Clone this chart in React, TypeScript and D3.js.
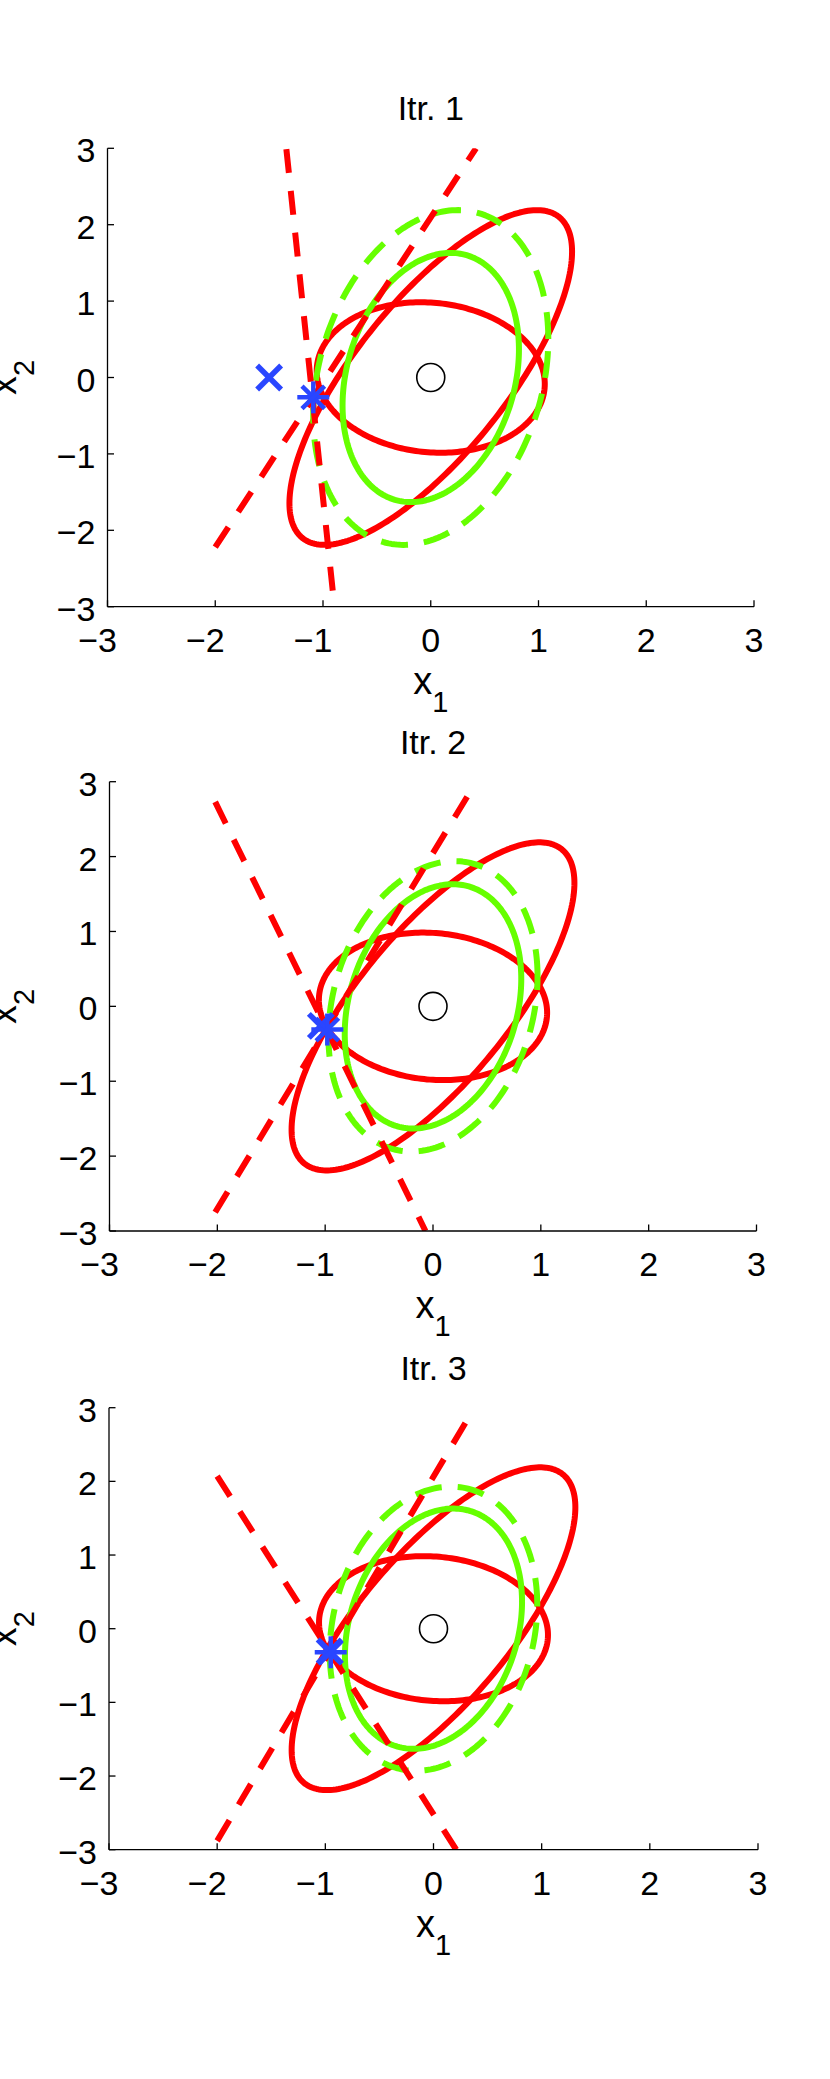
import React from "react";
import * as d3 from "d3";

// ---------- data ----------
const iterationTitles = ["Itr. 1", "Itr. 2", "Itr. 3"];
const xTicks = [-3, -2, -1, 0, 1, 2, 3];
const yTicks = [-3, -2, -1, 0, 1, 2, 3];

// ellipses given as [sxx, sxy, syy] (shape matrix, centred at origin)
const redEllipses = [
  [1.12, -0.09, 0.97],
  [1.72, 2.16, 4.8],
];
const greenSolidEllipse = [0.67, 0.3, 2.66];
const greenDashedEllipses = [
  [1.19, 0.55, 4.8],
  [0.94, 0.39, 3.76],
  [0.92, 0.31, 3.72],
];
// red dashed cutting lines per iteration: [x1, y1, x2, y2]
const cutLines = [
  [
    [-1.34, 2.99, -0.9, -2.92],
    [-2.0, -2.22, 0.42, 3.0],
  ],
  [
    [-2.02, 2.73, -0.07, -3.0],
    [-2.02, -2.75, 0.38, 2.95],
  ],
  [
    [-2.0, 2.07, 0.21, -3.0],
    [-2.0, -2.88, 0.35, 2.93],
  ],
];
const previousPoints = [
  [-1.5, 0.0],
  [-1.04, -0.26],
  [-0.96, -0.31],
];
const currentPoints = [
  [-1.09, -0.26],
  [-0.98, -0.31],
  [-0.95, -0.32],
];
const optimum = [0, 0];

// ---------- layout ----------
const W = 830;
const H = 2079;
const panels = [
  { left: 107.5, right: 754, top: 148.3, bottom: 606.7 },
  { left: 109.5, right: 756.5, top: 781.7, bottom: 1231 },
  { left: 109, right: 758, top: 1407.7, bottom: 1849.7 },
];
const RED = "#ff0000";
const GREEN = "#66ff00";
const BLUE = "#2a46ff";
const FONT = "'Liberation Sans', Arial, Helvetica, sans-serif";
const TICK_FS = 34;
const LABEL_FS = 38;
const SUB_FS = 29;
const TITLE_FS = 34;
const LW = 6;

function ellipsePoints(s: number[]) {
  const [sxx, sxy, syy] = s;
  const a = Math.sqrt(sxx);
  const b = sxy / a;
  const c = Math.sqrt(syy - b * b);
  const n = 240;
  return d3.range(n).map((i) => {
    const t = (2 * Math.PI * i) / n;
    return [a * Math.cos(t), b * Math.cos(t) + c * Math.sin(t)] as [number, number];
  });
}

function Panel({ idx }: { idx: number }) {
  const p = panels[idx];
  const x = d3.scaleLinear().domain([-3, 3]).range([p.left, p.right]);
  const y = d3.scaleLinear().domain([-3, 3]).range([p.bottom, p.top]);
  const line = d3
    .line<[number, number]>()
    .x((d) => x(d[0]))
    .y((d) => y(d[1]))
    .curve(d3.curveLinearClosed);
  const cx = (p.left + p.right) / 2;
  const clipId = `clip${idx}`;
  const digitHalf = TICK_FS * 0.556 * 0.5;
  const cp = currentPoints[idx];
  const pp = previousPoints[idx];
  const starR = 16;
  const xR = 12;
  const fmt = (v: number) => (v < 0 ? "\u2212" + Math.abs(v) : String(v));

  return (
    <g>
      <defs>
        <clipPath id={clipId}>
          <rect x={p.left} y={p.top} width={p.right - p.left} height={p.bottom - p.top} />
        </clipPath>
      </defs>
      <g clipPath={`url(#${clipId})`} fill="none" strokeLinejoin="round">
        {redEllipses.map((e, i) => (
          <path key={"r" + i} d={line(ellipsePoints(e)) || ""} stroke={RED} strokeWidth={LW} />
        ))}
        <path d={line(ellipsePoints(greenSolidEllipse)) || ""} stroke={GREEN} strokeWidth={LW} />
        <path
          d={line(ellipsePoints(greenDashedEllipses[idx])) || ""}
          stroke={GREEN}
          strokeWidth={LW}
          strokeDasharray="27 16"
        />
        {cutLines[idx].map((l, i) => (
          <line
            key={"l" + i}
            x1={x(l[0])}
            y1={y(l[1])}
            x2={x(l[2])}
            y2={y(l[3])}
            stroke={RED}
            strokeWidth={LW}
            strokeDasharray="24 18"
          />
        ))}
      </g>
      {/* optimum marker */}
      <circle cx={x(optimum[0])} cy={y(optimum[1])} r={14} fill="none" stroke="#000" strokeWidth={1.6} />
      {/* previous point: x marker */}
      <g stroke={BLUE} strokeWidth={5.5} strokeLinecap="butt">
        <line x1={x(pp[0]) - xR} y1={y(pp[1]) - xR} x2={x(pp[0]) + xR} y2={y(pp[1]) + xR} />
        <line x1={x(pp[0]) - xR} y1={y(pp[1]) + xR} x2={x(pp[0]) + xR} y2={y(pp[1]) - xR} />
      </g>
      {/* current point: asterisk */}
      <g stroke={BLUE} strokeWidth={4.5} strokeLinecap="butt">
        {[0, 45, 90, 135].map((ang) => {
          const r = (ang * Math.PI) / 180;
          const dx = starR * Math.cos(r);
          const dy = starR * Math.sin(r);
          return (
            <line
              key={ang}
              x1={x(cp[0]) - dx}
              y1={y(cp[1]) - dy}
              x2={x(cp[0]) + dx}
              y2={y(cp[1]) + dy}
            />
          );
        })}
      </g>
      {/* axes */}
      <g stroke="#000" strokeWidth={1.3} fill="none">
        <line x1={p.left} y1={p.bottom} x2={p.right} y2={p.bottom} />
        <line x1={p.left} y1={p.bottom} x2={p.left} y2={p.top} />
        {xTicks.map((t) => (
          <line key={"xt" + t} x1={x(t)} x2={x(t)} y1={p.bottom} y2={p.bottom - 6.5} />
        ))}
        {yTicks.map((t) => (
          <line key={"yt" + t} x1={p.left} x2={p.left + 6.5} y1={y(t)} y2={y(t)} />
        ))}
      </g>
      <g fontFamily={FONT} fontSize={TICK_FS} fill="#000">
        {xTicks.map((t) => (
          <text key={"xl" + t} x={x(t) + digitHalf} y={p.bottom + 45} textAnchor="end">
            {fmt(t)}
          </text>
        ))}
        {yTicks.map((t) => (
          <text key={"yl" + t} x={p.left - 12} y={y(t) + 14} textAnchor="end">
            {fmt(t)}
          </text>
        ))}
      </g>
      <text x={cx} y={p.top - 28} textAnchor="middle" fontFamily={FONT} fontSize={TITLE_FS}>
        {iterationTitles[idx]}
      </text>
      <text x={cx} y={p.bottom + 87} textAnchor="middle" fontFamily={FONT} fontSize={LABEL_FS}>
        x
        <tspan fontSize={SUB_FS} dy={18}>
          1
        </tspan>
      </text>
      <text
        transform={`translate(16, ${y(0)}) rotate(-90)`}
        textAnchor="middle"
        fontFamily={FONT}
        fontSize={LABEL_FS}
      >
        x
        <tspan fontSize={SUB_FS} dy={18}>
          2
        </tspan>
      </text>
    </g>
  );
}

export default function App() {
  return (
    <svg
      width={W}
      height={H}
      viewBox={`0 0 ${W} ${H}`}
      style={{ position: "absolute", left: 0, top: 0, background: "#fff" }}
    >
      <rect x={0} y={0} width={W} height={H} fill="#fff" />
      {iterationTitles.map((_, i) => (
        <Panel key={i} idx={i} />
      ))}
    </svg>
  );
}
